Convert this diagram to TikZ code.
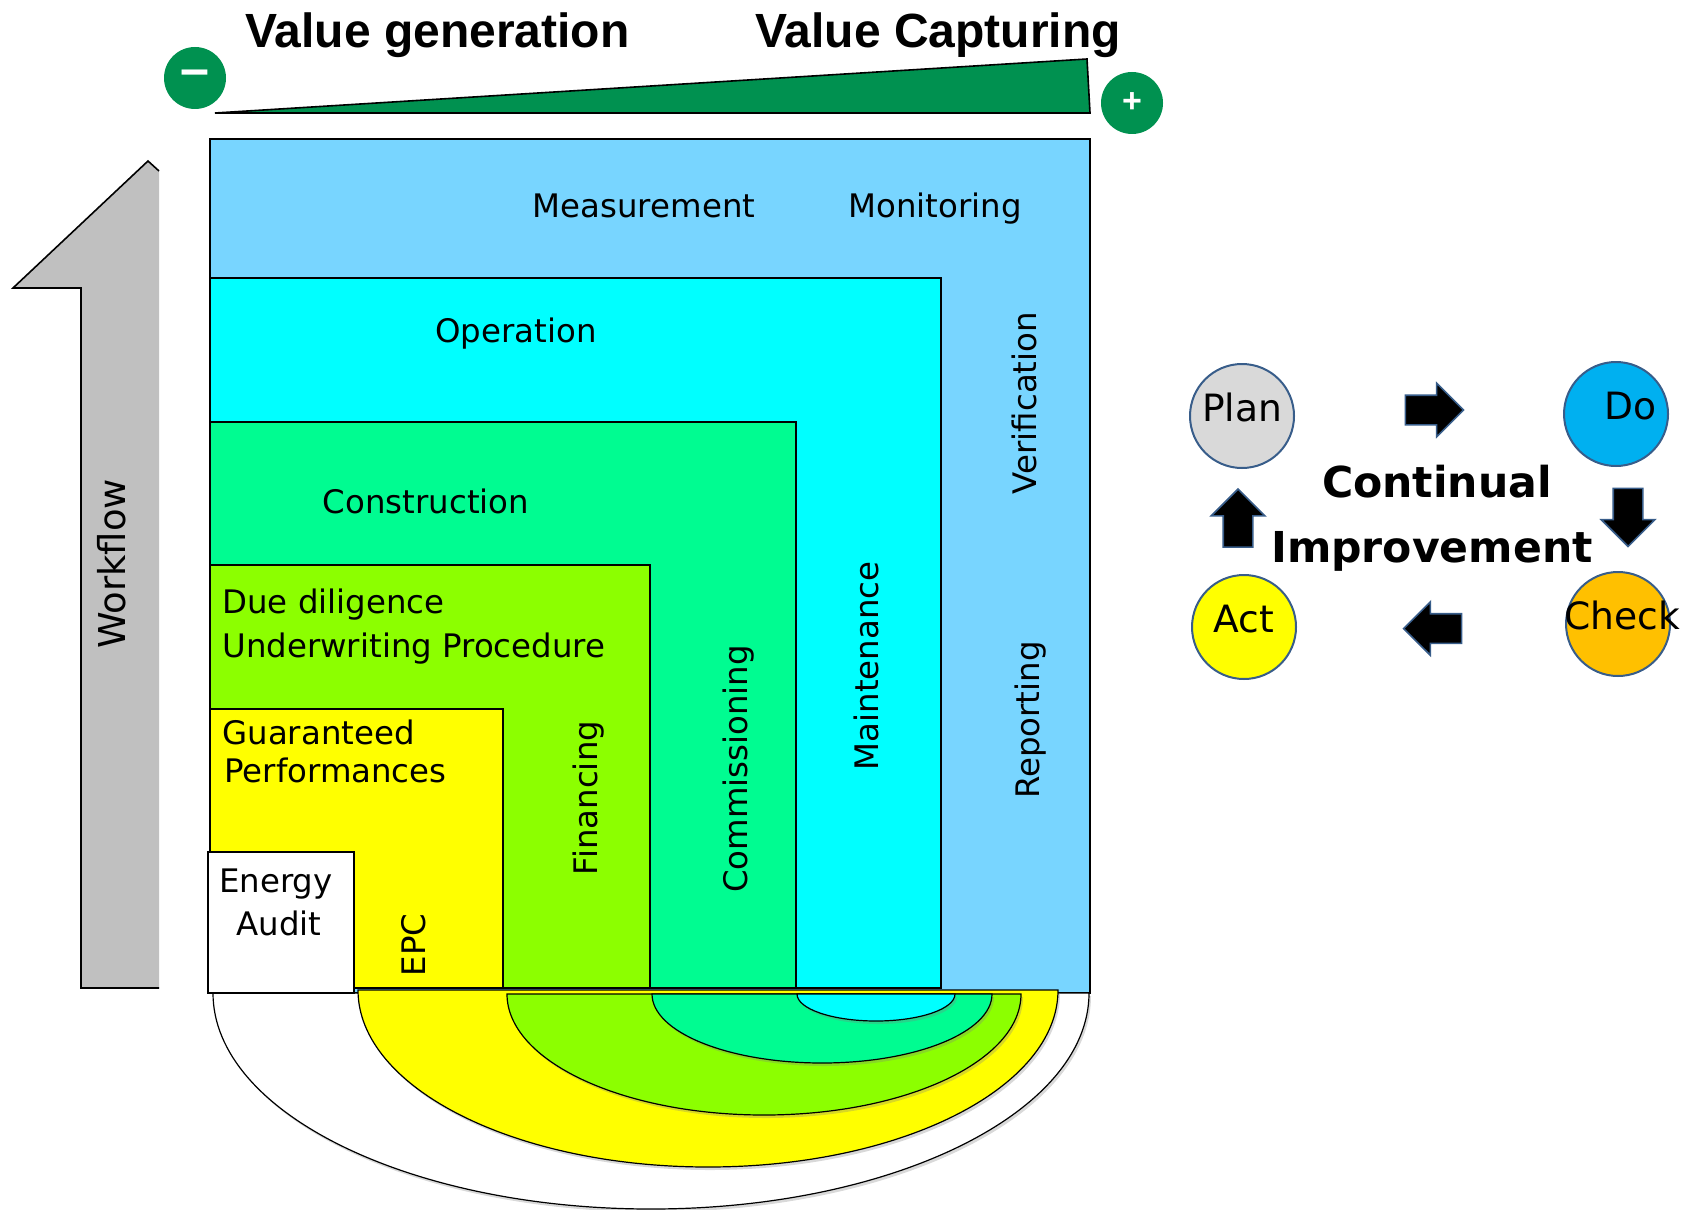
\documentclass[tikz,border=0pt]{standalone}
\usepackage{fontspec}
\setmainfont{DejaVu Sans}
\newfontfamily\titlefont{Liberation Sans}
\usetikzlibrary{shapes.arrows,shadows,calc}

\definecolor{mvblue}{RGB}{120,213,255}
\definecolor{opcyan}{RGB}{0,255,255}
\definecolor{congreen}{RGB}{0,252,145}
\definecolor{fingreen}{RGB}{140,255,0}
\definecolor{epcyellow}{RGB}{255,255,0}
\definecolor{valgreen}{RGB}{0,145,80}
\definecolor{flowgray}{RGB}{192,192,192}
\definecolor{pdcaline}{RGB}{56,93,138}
\definecolor{plangray}{RGB}{217,217,217}
\definecolor{doblue}{RGB}{0,176,240}
\definecolor{checkorange}{RGB}{255,192,0}

\begin{document}
\begin{tikzpicture}[x=0.5pt,y=-0.5pt,
    box/.style={draw=black,line width=0.6pt},
    lbl/.style={font=\fontsize{16.2}{20}\selectfont,inner sep=0pt},
    vlbl/.style={lbl,rotate=90,anchor=base},
    semi/.style={draw=black,line width=0.6pt,drop shadow={opacity=0.3,shadow xshift=1pt,shadow yshift=-1.5pt}},
    sign/.style={circle,fill=valgreen,minimum size=31pt,inner sep=0pt,text=white,font=\titlefont\bfseries\fontsize{17}{17}\selectfont},
    pdca/.style={circle,draw=pdcaline,line width=1pt,minimum size=52pt,inner sep=0pt,text height=13.5pt,text depth=8.5pt,font=\fontsize{18.8}{20}\selectfont},
    turn/.style={single arrow,fill=black,draw=pdcaline,line width=0.8pt,inner sep=7pt,minimum height=29pt,single arrow head extend=6pt,single arrow head indent=0pt}]
     \useasboundingbox (0,0) rectangle (1684,1209);
     % workflow arrow, cut at the right
     \fill[flowgray] (159,988) -- (81,988) -- (81,288) -- (13,288) -- (148,161) -- (159,171) -- cycle;
     \draw[line width=0.8pt] (159,988) -- (81,988) -- (81,288) -- (13,288) -- (148,161) -- (159,171);
     \node[vlbl,font=\fontsize{18.5}{20}\selectfont] (workflow) at (125,564) {Workflow};
     % value wedge
     \node[anchor=base west,inner sep=0pt,font=\titlefont\bfseries\fontsize{24}{24}\selectfont] (valgen) at (245,48) {Value generation};
     \node[anchor=base west,inner sep=0pt,font=\titlefont\bfseries\fontsize{24}{24}\selectfont] (valcap) at (755,48) {Value Capturing};
     \filldraw[fill=valgreen,draw=black,line width=0.8pt] (215,113) -- (1087,59) -- (1090,113) -- cycle;
     \node[sign,font=\titlefont\bfseries\fontsize{26}{26}\selectfont] (minus) at (195,78) {–};
     \node[sign] (plus) at (1132,103) {+};
     % nested phases
     \filldraw[box,fill=mvblue] (210,139) rectangle (1090,993);
     \filldraw[box,fill=opcyan] (210,278) rectangle (941,988);
     \filldraw[box,fill=congreen] (210,422) rectangle (796,988);
     \filldraw[box,fill=fingreen] (210,565) rectangle (650,988);
     \filldraw[box,fill=epcyellow] (210,709) rectangle (503,988);
     \draw[semi,fill=white] (213,993) arc[start angle=180,end angle=0,x radius=438,y radius=216] -- cycle;
     \draw[semi,fill=epcyellow] (358,990) arc[start angle=180,end angle=0,x radius=350,y radius=177] -- cycle;
     \draw[semi,fill=fingreen] (507,994) arc[start angle=180,end angle=0,x radius=257,y radius=121] -- cycle;
     \draw[semi,fill=congreen] (652,994) arc[start angle=180,end angle=0,x radius=170,y radius=69] -- cycle;
     \draw[semi,fill=opcyan] (797,994) arc[start angle=180,end angle=0,x radius=79,y radius=27] -- cycle;
     \filldraw[box,fill=white] (208,852) rectangle (354,993);
     \node[lbl,anchor=base] (meas) at (644,218) {Measurement};
     \node[lbl,anchor=base] (moni) at (935,218) {Monitoring};
     \node[lbl,anchor=base] (oper) at (516,342) {Operation};
     \node[lbl,anchor=base] (cons) at (426,513) {Construction};
     \node[lbl,anchor=base west] (due) at (222,613) {Due diligence};
     \node[lbl,anchor=base west] (underw) at (222,657) {Underwriting Procedure};
     \node[lbl,anchor=base west] (guar) at (222,744) {Guaranteed};
     \node[lbl,anchor=base west] (perf) at (224,782) {Performances};
     \node[lbl,anchor=base] (energy) at (276,892) {Energy};
     \node[lbl,anchor=base] (audit) at (279,935) {Audit};
     \node[vlbl] (verif) at (1036,403) {Verification};
     \node[vlbl] (report) at (1039,720) {Reporting};
     \node[vlbl] (maint) at (878,666) {Maintenance};
     \node[vlbl] (commis) at (747,769) {Commissioning};
     \node[vlbl] (financ) at (597,798) {Financing};
     \node[vlbl] (epc) at (425,945) {EPC};
     % PDCA cycle
     \node[pdca,fill=plangray] (plan) at (1242,416) {Plan};
     \node[pdca,fill=doblue] (do) at (1616,414) {\makebox[0pt]{\hspace{14pt}Do}};
     \node[pdca,fill=epcyellow] (act) at (1244,627) {Act};
     \node[pdca,fill=checkorange] (check) at (1618,624) {\makebox[0pt]{\hspace{4pt}Check}};
     \node[turn] (plando) at ($(plan)!0.5!(do)+(-2,-5)$) {};
     \node[turn,shape border rotate=270] (docheck) at ($(do)!0.5!(check)+(11,-9)$) {};
     \node[turn,shape border rotate=180] (checkact) at ($(check)!0.5!(act)+(9,3)$) {};
     \node[turn,shape border rotate=90] (actplan) at ($(act)!0.5!(plan)+(-5,4)$) {};
     \node[anchor=base,inner sep=0pt,font=\bfseries\fontsize{21.3}{21}\selectfont] (contin) at (1437,497) {Continual};
     \node[anchor=base,inner sep=0pt,font=\bfseries\fontsize{21.3}{21}\selectfont] (improv) at (1432,562) {Improvement};
\end{tikzpicture}
\end{document}
